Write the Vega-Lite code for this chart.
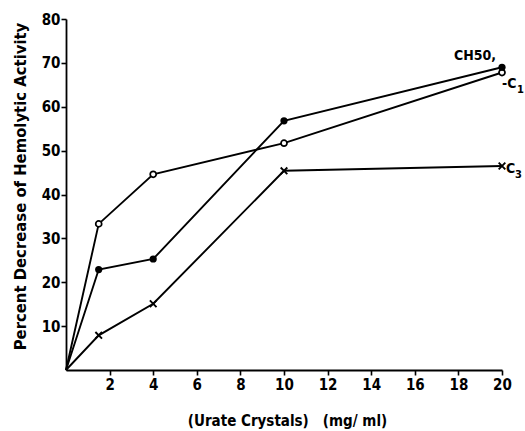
{
  "$schema": "https://vega.github.io/schema/vega-lite/v6.json",
  "width": 436,
  "height": 351,
  "autosize": "none",
  "padding": {"left": 66, "top": 19, "right": 23, "bottom": 61},
  "background": "white",
  "config": {
    "view": {"stroke": null},
    "font": "DejaVu Sans Condensed",
    "axis": {
      "domainColor": "black", "domainWidth": 1.8, "tickColor": "black", "tickWidth": 1.6,
      "labelFont": "DejaVu Sans Condensed", "labelFontWeight": "bold", "labelColor": "black",
      "titleFont": "DejaVu Sans Condensed", "titleFontWeight": "bold", "titleColor": "black",
      "grid": false
    }
  },
  "datasets": {
    "curves": [
      {"series": "CH50", "conc": 0, "pct": 0},
      {"series": "CH50", "conc": 1.5, "pct": 22.9},
      {"series": "CH50", "conc": 4, "pct": 25.3},
      {"series": "CH50", "conc": 10, "pct": 56.8},
      {"series": "CH50", "conc": 20, "pct": 69.0},
      {"series": "C1", "conc": 0, "pct": 0},
      {"series": "C1", "conc": 1.5, "pct": 33.3},
      {"series": "C1", "conc": 4, "pct": 44.6},
      {"series": "C1", "conc": 10, "pct": 51.7},
      {"series": "C1", "conc": 20, "pct": 67.8},
      {"series": "C3", "conc": 0, "pct": 0},
      {"series": "C3", "conc": 1.5, "pct": 7.9},
      {"series": "C3", "conc": 4, "pct": 15.1},
      {"series": "C3", "conc": 10, "pct": 45.4},
      {"series": "C3", "conc": 20, "pct": 46.5}
    ]
  },
  "data": {"name": "curves"},
  "encoding": {
    "x": {
      "field": "conc", "type": "quantitative",
      "scale": {"domain": [0, 20], "nice": false, "zero": true},
      "axis": {
        "values": [2, 4, 6, 8, 10, 12, 14, 16, 18, 20],
        "title": "(Urate Crystals)\u00a0\u00a0\u00a0(mg/\u00a0ml)",
        "labelFontSize": 15, "labelPadding": 2, "tickSize": 5,
        "titleFontSize": 15, "titleX": 221, "titleY": 55, "titleBaseline": "alphabetic",
        "labelFlush": false
      }
    },
    "y": {
      "field": "pct", "type": "quantitative",
      "scale": {"domain": [0, 80], "nice": false},
      "axis": {
        "values": [10, 20, 30, 40, 50, 60, 70, 80],
        "title": "Percent Decrease of Hemolytic Activity",
        "labelFontSize": 15, "labelPadding": 1, "tickSize": 5,
        "titleFontSize": 16.5, "titleX": -41, "titleY": 167, "titleAngle": -90,
        "titleBaseline": "alphabetic", "titleAlign": "center",
        "labelFlush": false
      }
    }
  },
  "layer": [
    {
      "mark": {"type": "line", "color": "black", "strokeWidth": 1.9},
      "encoding": {"detail": {"field": "series"}}
    },
    {
      "transform": [{"filter": "datum.series == 'C1' && datum.conc > 0"}],
      "mark": {"type": "point", "shape": "circle", "fill": "white", "filled": true, "stroke": "black", "strokeWidth": 1.7, "size": 36, "opacity": 1}
    },
    {
      "transform": [{"filter": "datum.series == 'CH50' && datum.conc > 0"}],
      "mark": {"type": "point", "shape": "circle", "filled": true, "color": "black", "size": 52, "opacity": 1}
    },
    {
      "transform": [{"filter": "datum.series == 'C3' && datum.conc > 0"}],
      "mark": {"type": "point", "shape": "M-1,-1L1,1M1,-1L-1,1", "filled": false, "stroke": "black", "strokeWidth": 1.9, "size": 44, "opacity": 1}
    },
    {
      "transform": [{"filter": "datum.series == 'CH50' && datum.conc == 20"}],
      "mark": {"type": "text", "text": "CH50,", "align": "right", "baseline": "alphabetic", "dx": -6, "dy": -7, "font": "DejaVu Sans Condensed", "fontWeight": "bold", "fontSize": 14, "color": "black"}
    },
    {
      "transform": [{"filter": "datum.series == 'C1' && datum.conc == 20"}],
      "mark": {"type": "text", "text": "-C", "align": "left", "baseline": "alphabetic", "dx": 0, "dy": 15, "font": "DejaVu Sans Condensed", "fontWeight": "bold", "fontSize": 14, "color": "black"}
    },
    {
      "transform": [{"filter": "datum.series == 'C1' && datum.conc == 20"}],
      "mark": {"type": "text", "text": "1", "align": "left", "baseline": "alphabetic", "dx": 15, "dy": 20, "font": "DejaVu Sans Condensed", "fontWeight": "bold", "fontSize": 11, "color": "black"}
    },
    {
      "transform": [{"filter": "datum.series == 'C3' && datum.conc == 20"}],
      "mark": {"type": "text", "text": "C", "align": "left", "baseline": "alphabetic", "dx": 4, "dy": 7, "font": "DejaVu Sans Condensed", "fontWeight": "bold", "fontSize": 14, "color": "black"}
    },
    {
      "transform": [{"filter": "datum.series == 'C3' && datum.conc == 20"}],
      "mark": {"type": "text", "text": "3", "align": "left", "baseline": "alphabetic", "dx": 13, "dy": 12, "font": "DejaVu Sans Condensed", "fontWeight": "bold", "fontSize": 11, "color": "black"}
    }
  ]
}
